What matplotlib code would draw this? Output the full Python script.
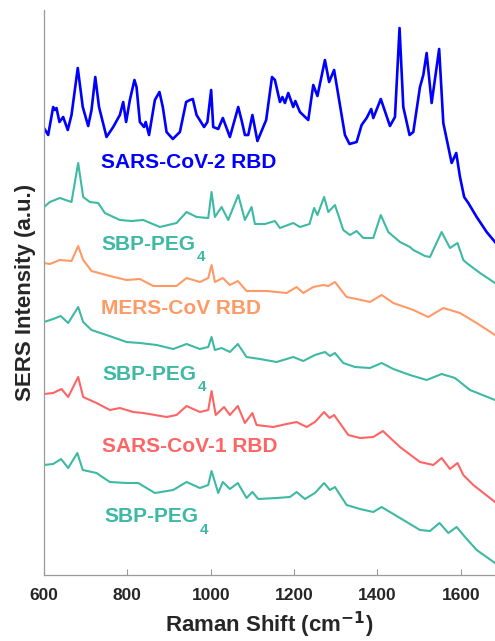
import matplotlib
matplotlib.use("Agg")
import matplotlib.pyplot as plt

plt.rcParams['font.family'] = ['Liberation Sans', 'DejaVu Sans']
plt.rcParams['font.weight'] = 'bold'

# ---- data (Raman shift in cm^-1, stacked SERS intensity in a.u.) ----
sars2_x = [600, 610, 622, 626, 630, 637, 646, 657, 666, 681, 693, 706, 714, 723, 732, 750, 766, 782, 790, 797,
           806, 817, 822, 830, 840, 844, 852, 866, 877, 885, 894, 909, 926, 941, 950, 957, 966, 984, 992, 1001,
           1006, 1018, 1029, 1046, 1066, 1075, 1082, 1090, 1100, 1112, 1133, 1147, 1154, 1166, 1172, 1178, 1186,
           1198, 1203, 1214, 1234, 1246, 1256, 1274, 1284, 1296, 1310, 1322, 1333, 1350, 1362, 1374, 1385, 1390,
           1408, 1430, 1442, 1453, 1462, 1477, 1486, 1502, 1510, 1518, 1530, 1548, 1558, 1578, 1589, 1598, 1608,
           1618, 1638, 1662, 1682]
sars2_y = [447, 440, 468, 465, 467, 453, 458, 445, 460, 507, 468, 449, 465, 498, 468, 438, 448, 460, 473, 453,
           475, 495, 488, 453, 448, 453, 440, 475, 483, 468, 443, 436, 443, 473, 475, 476, 460, 448, 453, 485,
           448, 446, 457, 438, 468, 453, 440, 440, 460, 434, 455, 498, 495, 473, 478, 472, 482,
           468, 474, 463, 455, 490, 479, 515, 493, 505, 470, 440, 431, 433, 450, 457, 466, 457,
           476, 449, 458, 547, 468, 440, 443, 488, 500, 522, 472, 526, 452, 412, 422, 398, 378,
           372, 358, 343, 333]

peg_a_x = [600, 614, 638, 666, 682, 694, 710, 730, 746, 782, 810, 838, 878, 918, 942, 966, 994, 1002, 1010, 1026,
           1042, 1066, 1082, 1098, 1106, 1130, 1154, 1166, 1198, 1214, 1237, 1248, 1256, 1272, 1282, 1298, 1318,
           1334, 1350, 1366, 1390, 1408, 1426, 1454, 1478, 1486, 1514, 1526, 1554, 1574, 1592, 1606, 1614, 1646, 1682]
peg_a_y = [368, 373, 377, 373, 412, 378, 373, 372, 362, 355, 354, 355, 348, 352, 363, 358, 357, 383, 358, 368,
           355, 380, 355, 368, 351, 351, 354, 347, 352, 348, 351, 367, 360, 378, 363, 370, 345,
           340, 344, 337, 337, 360, 343, 333, 328, 325, 319, 318, 343, 327, 332, 315, 312, 302, 292]

mers_x = [600, 614, 638, 666, 682, 694, 714, 758, 798, 830, 862, 918, 942, 974, 994, 1002, 1010, 1029, 1046, 1065,
          1086, 1134, 1182, 1206, 1222, 1246, 1270, 1282, 1298, 1326, 1350, 1382, 1410, 1438, 1486, 1522, 1558,
          1598, 1638, 1682]
mers_y = [312, 311, 315, 314, 329, 315, 304, 299, 295, 296, 289, 289, 297, 293, 297, 310, 293, 297, 290, 294,
          284, 284, 282, 288, 282, 288, 290, 289, 293, 278, 276, 273, 280, 272, 265, 258, 267,
          262, 252, 240]

peg_b_x = [600, 622, 640, 658, 682, 694, 714, 750, 798, 830, 870, 910, 942, 974, 994, 1002, 1010, 1026, 1046, 1065,
           1086, 1118, 1158, 1198, 1222, 1250, 1274, 1286, 1298, 1318, 1346, 1382, 1410, 1438, 1478, 1518, 1554,
           1586, 1622, 1682]
peg_b_y = [253, 256, 259, 252, 268, 253, 245, 240, 233, 232, 230, 226, 231, 226, 228, 238, 225, 227, 223, 231,
           218, 216, 213, 218, 214, 220, 223, 219, 222, 212, 208, 207, 212, 206, 200, 195, 201,
           197, 185, 175]

sars1_x = [600, 622, 642, 658, 682, 694, 726, 758, 782, 814, 838, 894, 918, 942, 974, 994, 1002, 1012, 1032, 1046,
           1065, 1082, 1100, 1110, 1150, 1182, 1206, 1230, 1250, 1272, 1285, 1296, 1330, 1358, 1390, 1413, 1454,
           1502, 1534, 1554, 1574, 1592, 1606, 1630, 1682]
sars1_y = [181, 182, 186, 178, 198, 178, 172, 165, 167, 163, 162, 158, 160, 169, 163, 165, 184, 160, 168, 160,
           169, 152, 162, 150, 148, 151, 153, 148, 153, 163, 157, 160, 140, 137, 138, 144, 128,
           113, 110, 117, 106, 112, 100, 90, 73]

peg_c_x = [600, 622, 641, 658, 680, 693, 726, 758, 798, 826, 866, 910, 942, 974, 994, 1002, 1018, 1029, 1046, 1065,
           1086, 1100, 1114, 1158, 1190, 1206, 1226, 1250, 1272, 1286, 1298, 1326, 1358, 1390, 1410, 1454, 1502,
           1526, 1549, 1570, 1590, 1610, 1638, 1682]
peg_c_y = [110, 111, 116, 107, 122, 105, 102, 93, 92, 92, 82, 85, 93, 87, 90, 104, 82, 93, 86, 92,
           77, 83, 76, 77, 78, 83, 76, 82, 92, 85, 88, 70, 66, 63, 68, 57, 45,
           44, 52, 42, 48, 38, 25, 12]

x_ticks = [600, 800, 1000, 1200, 1400, 1600]

BLUE = '#0000FF'
TEAL = '#3DB9A4'
ORANGE = '#FF9A66'
RED = '#FF6464'

fig = plt.figure(figsize=(4.95, 6.41), dpi=100)
ax = fig.add_axes([44 / 495, 66 / 641, 451 / 495, 565 / 641])

ax.plot(sars2_x, sars2_y, color=BLUE, lw=1.9)
ax.plot(peg_a_x, peg_a_y, color=TEAL, lw=1.5)
ax.plot(mers_x, mers_y, color=ORANGE, lw=1.5)
ax.plot(peg_b_x, peg_b_y, color=TEAL, lw=1.5)
ax.plot(sars1_x, sars1_y, color=RED, lw=1.5)
ax.plot(peg_c_x, peg_c_y, color=TEAL, lw=1.5)

ax.set_xlim(600, 1682)
ax.set_ylim(0, 565)

labels = [
    ('SARS-CoV-2 RBD', None, BLUE, 737, 412),
    ('SBP-PEG', '4', TEAL, 737, 331),
    ('MERS-CoV RBD', None, ORANGE, 737, 266),
    ('SBP-PEG', '4', TEAL, 739, 201),
    ('SARS-CoV-1 RBD', None, RED, 739, 129),
    ('SBP-PEG', '4', TEAL, 746, 58),
]
for main, sub, col, lx, ly in labels:
    t = ax.text(lx, ly, main, color=col, fontsize=15, fontweight='bold', ha='left', va='center')
    if sub:
        ax.annotate(sub, xy=(1, 0), xycoords=t, xytext=(1, -7.5), textcoords='offset points',
                    color=col, fontsize=11, fontweight='bold', ha='left', va='bottom')

for s in ['top', 'right']:
    ax.spines[s].set_visible(False)
for s in ['left', 'bottom']:
    ax.spines[s].set_color('#9A9A9A')
    ax.spines[s].set_linewidth(0.9)

ax.set_yticks([])
ax.set_xticks(x_ticks)
ax.tick_params(axis='x', direction='in', length=4, width=0.8, color='#9A9A9A',
               labelsize=12.5, labelcolor='#262626', pad=9)
for lab in ax.get_xticklabels():
    lab.set_fontweight('bold')

ax.set_xlabel('Raman Shift (cm$^{\\mathbf{-1}}$)', fontsize=16, fontweight='bold', color='#262626', labelpad=5)
ax.set_ylabel('SERS Intensity (a.u.)', fontsize=16, fontweight='bold', color='#262626', labelpad=6)

fig.savefig('out.png', dpi=100)
